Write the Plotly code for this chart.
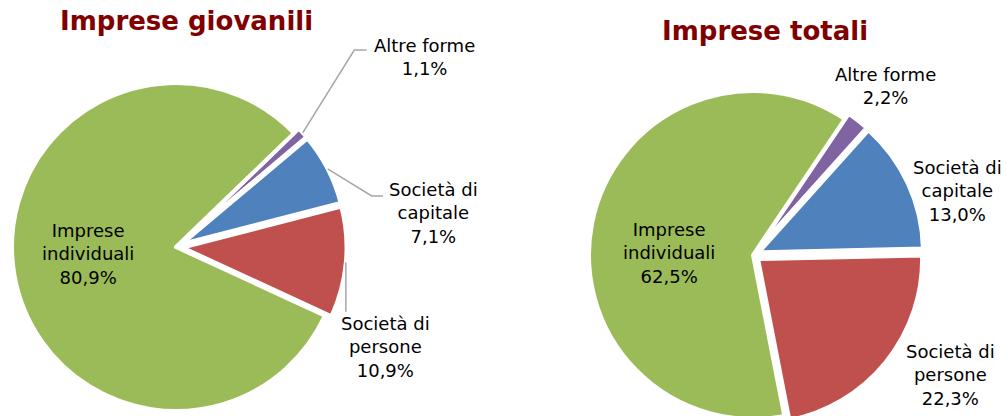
import math
import plotly.graph_objects as go

# ---- data ----
categories = ["Altre forme", "Società di capitale", "Società di persone", "Imprese individuali"]
display_labels = ["Altre forme", "Società di<br>capitale", "Società di<br>persone", "Imprese<br>individuali"]
giovanili = [1.1, 7.1, 10.9, 80.9]
totali = [2.2, 13.0, 22.3, 62.5]
titles = ["Imprese giovanili", "Imprese totali"]

# ---- style ----
colors = ["#8064A2", "#4F81BD", "#C0504D", "#9BBB59"]
W, H = 1007, 440          # figure size (page is viewed through a 1007x416 window)
PULLS = [0.04, 0.04, 0.04, 0.0]
BORDER = 4
FONT = "DejaVu Sans"
LABEL_SIZE = 18
LINE_COLOR = "#A6A6A6"


def px(x):
    return x / W


def py(y):
    return 1 - y / H


pies = [
    dict(values=giovanili, title=titles[0], cx=176, cy=247, r=164, rotation=46,
         title_pos=(186.7, 21.4),
         label_pos=[(424, 56.5), (433, 213.2), (385, 347.4), (88.3, 254.3)]),
    dict(values=totali, title=titles[1], cx=753, cy=255, r=164, rotation=34,
         title_pos=(764.7, 31),
         label_pos=[(885.3, 86.2), (957, 190.7), (950.3, 375.3), (668.5, 252.9)]),
]

fig = go.Figure()
annotations = []
shapes = []


def slice_anchor(p, idx, extra=0.0):
    vals = p["values"]
    total = sum(vals)
    r = p["r"]
    start = p["rotation"] + 360 * sum(vals[:idx]) / total
    mid = math.radians(start + 180 * vals[idx] / total)
    pcx = p["cx"] + PULLS[idx] * r * math.sin(mid)
    pcy = p["cy"] - PULLS[idx] * r * math.cos(mid)
    return pcx + (r + extra) * math.sin(mid), pcy - (r + extra) * math.cos(mid)


for p in pies:
    R = p["r"] * (1 + max(PULLS))
    fig.add_trace(go.Pie(
        labels=categories,
        values=p["values"],
        sort=False,
        direction="clockwise",
        rotation=p["rotation"],
        pull=PULLS,
        marker=dict(colors=colors, line=dict(color="white", width=BORDER)),
        textinfo="none",
        hoverinfo="label+percent",
        showlegend=False,
        domain=dict(x=[px(p["cx"] - R), px(p["cx"] + R)],
                    y=[py(p["cy"] + R), py(p["cy"] - R)]),
    ))
    annotations.append(dict(
        text=p["title"], x=px(p["title_pos"][0]), y=py(p["title_pos"][1]),
        xref="paper", yref="paper", showarrow=False,
        xanchor="center", yanchor="middle",
        font=dict(family=FONT, size=26, color="#800000", weight="bold"),
    ))
    for i, lab in enumerate(display_labels):
        pct = f"{p['values'][i]:.1f}".replace(".", ",") + "%"
        lx, ly = p["label_pos"][i]
        annotations.append(dict(
            text=f"{lab}<br>{pct}", x=px(lx), y=py(ly),
            xref="paper", yref="paper", showarrow=False,
            xanchor="center", yanchor="middle", align="center",
            font=dict(family=FONT, size=LABEL_SIZE, color="#000000"),
        ))

# leader lines (left pie only)
lp = pies[0]
leaders = {0: [(354.3, 50), (366.7, 50)], 1: [(371.7, 196), (383, 196)]}
for idx, pts in leaders.items():
    sx, sy = slice_anchor(lp, idx)
    path = f"M {px(sx)},{py(sy)}" + "".join(f" L {px(x)},{py(y)}" for x, y in pts)
    shapes.append(dict(type="path", path=path, xref="paper", yref="paper",
                       line=dict(color=LINE_COLOR, width=1.5)))
sx, sy = slice_anchor(lp, 2)
shapes.append(dict(type="line", xref="paper", yref="paper",
                   x0=px(sx), y0=py(sy), x1=px(sx), y1=py(311.7),
                   line=dict(color=LINE_COLOR, width=1.5)))

fig.update_layout(
    width=W, height=H,
    margin=dict(l=0, r=0, t=0, b=0),
    paper_bgcolor="white", plot_bgcolor="white",
    annotations=annotations, shapes=shapes,
    font=dict(family=FONT),
)

fig.write_html("out.html", config={"displayModeBar": False},
               post_script="document.body.style.margin='0';")
